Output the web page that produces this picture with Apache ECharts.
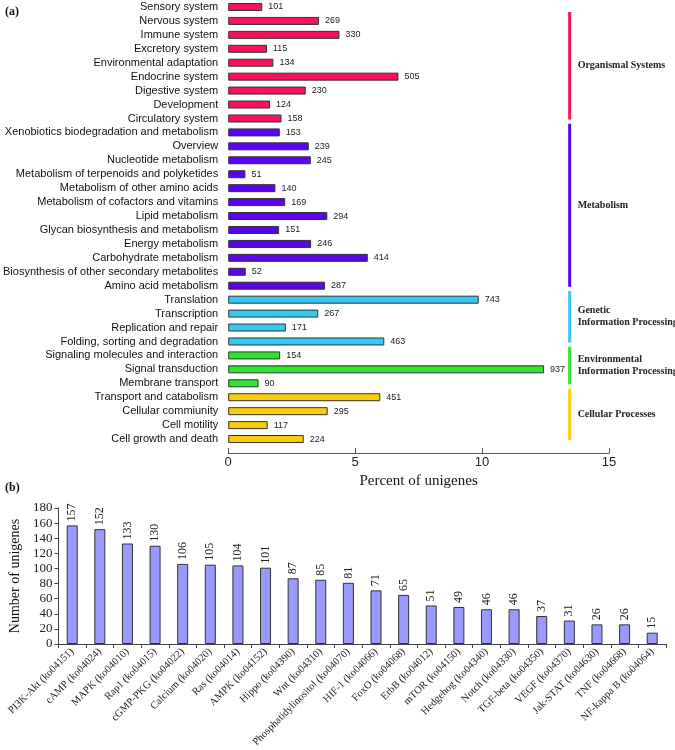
<!DOCTYPE html>
<html>
<head>
<meta charset="utf-8">
<script src="https://cdn.jsdelivr.net/npm/echarts@6/dist/echarts.min.js"></script>
<style>
  html, body { margin: 0; padding: 0; background: #fff; }
  #main { width: 675px; height: 750px; }
</style>
</head>
<body>
<div id="main"></div>
<script>
// (a) KEGG level-2 pathways, top to bottom
const pathwayNames = [
  'Sensory system', 'Nervous system', 'Immune system', 'Excretory system',
  'Environmental adaptation', 'Endocrine system', 'Digestive system', 'Development',
  'Circulatory system',
  'Xenobiotics biodegradation and metabolism', 'Overview', 'Nucleotide metabolism',
  'Metabolism of terpenoids and polyketides', 'Metabolism of other amino acids',
  'Metabolism of cofactors and vitamins', 'Lipid metabolism',
  'Glycan biosynthesis and metabolism', 'Energy metabolism', 'Carbohydrate metabolism',
  'Biosynthesis of other secondary metabolites', 'Amino acid metabolism',
  'Translation', 'Transcription', 'Replication and repair', 'Folding, sorting and degradation',
  'Signaling molecules and interaction', 'Signal transduction', 'Membrane transport',
  'Transport and catabolism', 'Cellular commiunity', 'Cell motility', 'Cell growth and death'
];
const pathwayCounts = [
  101, 269, 330, 115, 134, 505, 230, 124, 158,
  153, 239, 245, 51, 140, 169, 294, 151, 246, 414, 52, 287,
  743, 267, 171, 463,
  154, 937, 90,
  451, 295, 117, 224
];
const totalUnigenes = 7530; // bar length = share of annotated unigenes

const groupNames = [
  'Organismal Systems', 'Metabolism', 'Genetic\nInformation Processing',
  'Environmental\nInformation Processing', 'Cellular Processes'
];
const groupSizes = [9, 12, 4, 3, 4];
const groupColors = ['#f5135a', '#5a06ec', '#36c8f5', '#2ee62e', '#fbcc0c'];
const percentTicks = [0, 5, 10, 15];

// (b) signal transduction pathways
const signalNames = [
  'PI3K-Akt (ko04151)', 'cAMP (ko04024)', 'MAPK (ko04010)', 'Rap1 (ko04015)',
  'cGMP-PKG (ko04022)', 'Calcium (ko04020)', 'Ras (ko04014)', 'AMPK (ko04152)',
  'Hippo (ko04390)', 'Wnt (ko04310)', 'Phosphatidylinositol (ko04070)', 'HIF-1 (ko04066)',
  'FoxO (ko04068)', 'ErbB (ko04012)', 'mTOR (ko04150)', 'Hedgehog (ko04340)',
  'Notch (ko04330)', 'TGF-beta (ko04350)', 'VEGF (ko04370)', 'Jak-STAT (ko04630)',
  'TNF (ko04668)', 'NF-kappa B (ko04064)'
];
const signalCounts = [157, 152, 133, 130, 106, 105, 104, 101, 87, 85, 81, 71, 65, 51, 49, 46, 46, 37, 31, 26, 26, 15];

// group index of every pathway + bracket ranges
const groupOf = [];
const brackets = [];
let start = 0;
groupSizes.forEach((n, gi) => {
  for (let i = 0; i < n; i++) groupOf.push(gi);
  brackets.push([start, start + n - 1, gi, 0]);
  start += n;
});

const sans = 'Liberation Sans';
const serif = 'Liberation Serif';

const myChart = echarts.init(document.getElementById('main'));

const option = {
  animation: false,
  backgroundColor: '#fff',
  graphic: [
    { type: 'text', left: 5, top: 6, style: { text: '(a)', font: 'bold 12px "Liberation Serif"', fill: '#111' } },
    { type: 'text', left: 5, top: 482, style: { text: '(b)', font: 'bold 12px "Liberation Serif"', fill: '#111' } }
  ],
  grid: [
    { left: 226, top: 0, width: 383, height: 446 },
    { left: 50, top: 508, width: 616, height: 136 }
  ],
  xAxis: [
    {
      gridIndex: 0, type: 'value', min: 0, max: 15, interval: 5, offset: 7,
      name: 'Percent of unigenes', nameLocation: 'middle', nameGap: 18,
      nameTextStyle: { fontFamily: serif, fontSize: 15, color: '#111' },
      axisLine: { show: true, lineStyle: { color: '#555', width: 1 } },
      axisTick: { show: true, inside: true, length: 5, lineStyle: { color: '#555' } },
      axisLabel: { fontFamily: sans, fontSize: 13, color: '#222', margin: 3,
        customValues: percentTicks },
      splitLine: { show: false }
    },
    {
      gridIndex: 1, type: 'category', data: signalNames,
      axisLine: { lineStyle: { color: '#444' } },
      axisTick: { show: true, length: 4, lineStyle: { color: '#444' } },
      axisLabel: { rotate: 45, interval: 0, fontFamily: serif, fontSize: 10.5, color: '#222', margin: 6 }
    }
  ],
  yAxis: [
    {
      gridIndex: 0, type: 'category', data: pathwayNames, inverse: true,
      axisLine: { show: false }, axisTick: { show: false },
      axisLabel: { interval: 0, fontFamily: sans, fontSize: 11, color: '#111', margin: 10 }
    },
    {
      gridIndex: 1, type: 'value', min: 0, max: 180, interval: 20,
      name: 'Number of unigenes', nameLocation: 'middle', nameGap: 36,
      nameTextStyle: { fontFamily: serif, fontSize: 14, color: '#111' },
      axisLine: { show: true, lineStyle: { color: '#444' } },
      axisTick: { show: true, length: 4, lineStyle: { color: '#444' } },
      axisLabel: { fontFamily: serif, fontSize: 13, color: '#222', margin: 6 },
      splitLine: { show: false }
    }
  ],
  series: [
    {
      type: 'bar', xAxisIndex: 0, yAxisIndex: 0, barWidth: 8,
      data: pathwayCounts.map((c, i) => ({
        value: c / totalUnigenes * 100,
        itemStyle: { color: groupColors[groupOf[i]] }
      })),
      itemStyle: { borderColor: '#333', borderWidth: 1 },
      label: {
        show: true, position: 'right', distance: 6,
        fontFamily: sans, fontSize: 9, color: '#222',
        formatter: p => pathwayCounts[p.dataIndex]
      }
    },
    {
      type: 'custom', xAxisIndex: 0, yAxisIndex: 0, clip: false,
      encode: { x: 3, y: 0 },
      data: brackets,
      renderItem: function (params, api) {
        const s = api.value(0), e = api.value(1), gi = api.value(2);
        const band = api.size([0, 1])[1];
        const x = api.coord([13.45, s])[0];
        const y0 = Math.max(api.coord([0, s])[1] - band * 0.62, 12);
        const y1 = api.coord([0, e])[1] + band * 0.08;
        return {
          type: 'group',
          children: [
            { type: 'line', shape: { x1: x, y1: y0, x2: x, y2: y1 },
              style: { stroke: groupColors[gi], lineWidth: 3 } },
            { type: 'text', style: {
                text: groupNames[gi], x: x + 8, y: (y0 + y1) / 2,
                fontFamily: serif, fontWeight: 'bold', fontSize: 10, lineHeight: 12,
                fill: '#222', align: 'left', verticalAlign: 'middle' } }
          ]
        };
      }
    },
    {
      type: 'bar', xAxisIndex: 1, yAxisIndex: 1, barWidth: 11,
      data: signalCounts,
      itemStyle: { color: '#9999ff', borderColor: '#333', borderWidth: 1 },
      label: {
        show: true, position: 'top', rotate: 90, align: 'left', verticalAlign: 'middle',
        distance: 4, fontFamily: serif, fontSize: 12, color: '#222'
      }
    }
  ]
};

myChart.setOption(option);
</script>
</body>
</html>
